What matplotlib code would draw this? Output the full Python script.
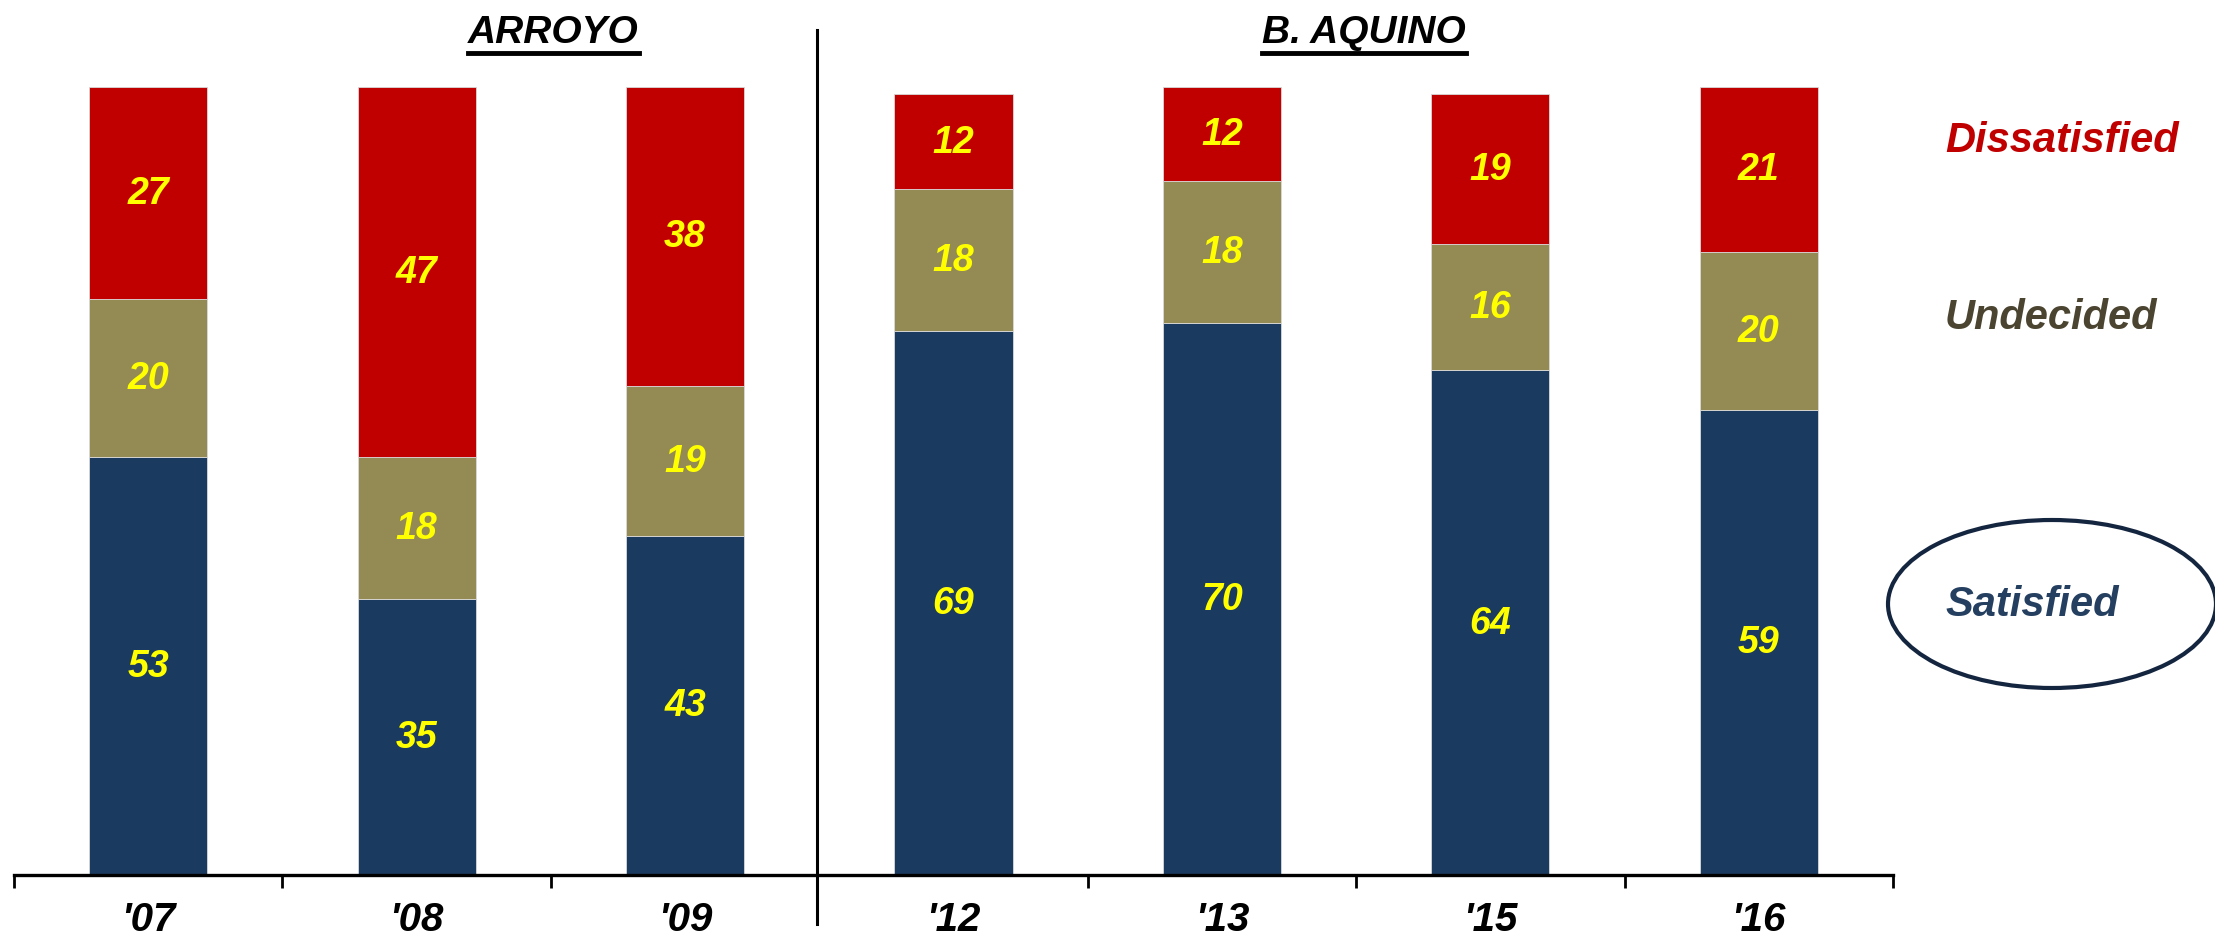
import matplotlib
matplotlib.use("Agg")
import matplotlib.pyplot as plt
from matplotlib import font_manager
from matplotlib.patches import Ellipse
from matplotlib.lines import Line2D

years = ["'07", "'08", "'09", "'12", "'13", "'15", "'16"]
satisfied = [53, 35, 43, 69, 70, 64, 59]
undecided = [20, 18, 19, 18, 18, 16, 20]
dissatisfied = [27, 47, 38, 12, 12, 19, 21]
groups = ["ARROYO", "B. AQUINO"]
series_names = ["Dissatisfied", "Undecided", "Satisfied"]

c_sat = "#1b3a5f"
c_und = "#948a54"
c_dis = "#c00000"
c_lab = "#ffff00"

names = {f.name for f in font_manager.fontManager.ttflist}
narrow = ["Liberation Sans Narrow", "Liberation Sans"] if "Liberation Sans Narrow" in names else ["Liberation Sans"]
wide = ["Liberation Sans", "DejaVu Sans"]

W, H = 2215, 937
fig = plt.figure(figsize=(W / 100, H / 100), dpi=100)
ax = fig.add_axes([14 / W, (H - 876) / H, 1879 / W, 788.4 / H])

x = list(range(len(years)))
bw = 0.44
b1 = ax.bar(x, satisfied, bw, color=c_sat, edgecolor="#d9d9d9", linewidth=0.6)
bot2 = satisfied
b2 = ax.bar(x, undecided, bw, bottom=bot2, color=c_und, edgecolor="#d9d9d9", linewidth=0.6)
bot3 = [s + u for s, u in zip(satisfied, undecided)]
b3 = ax.bar(x, dissatisfied, bw, bottom=bot3, color=c_dis, edgecolor="#d9d9d9", linewidth=0.6)

for bars in (b1, b2, b3):
    ax.bar_label(bars, label_type="center", color=c_lab, fontsize=27,
                 fontweight="bold", fontstyle="italic", family=wide)

ax.set_xlim(-0.5, 6.5)
ax.set_ylim(0, 100)
for s in ("top", "left", "right"):
    ax.spines[s].set_visible(False)
ax.spines["bottom"].set_linewidth(2.4)
ax.set_yticks([])
ax.set_xticks([-0.5, 0.5, 1.5, 3.5, 4.5, 5.5, 6.5])
ax.set_xticklabels([])
ax.tick_params(axis="x", direction="out", length=9, width=2)

for xi, lab in zip(x, years):
    ax.text(xi, -5.6, lab, ha="center", va="center", fontsize=29,
            fontweight="bold", fontstyle="italic", family=narrow, clip_on=False)

# divider
ax.plot([2.49, 2.49], [-6.2, 107.2], color="black", lw=2.2, clip_on=False)

# group titles
t1 = ax.text(1.51, 106.9, groups[0], ha="center", va="center", fontsize=28,
             fontweight="bold", fontstyle="italic", family=narrow, clip_on=False)
t2 = ax.text(4.53, 106.9, groups[1], ha="center", va="center", fontsize=28,
             fontweight="bold", fontstyle="italic", family=narrow, clip_on=False)

# legend-like labels
fig.text(1945 / W, 1 - 141 / H, series_names[0], color=c_dis, fontsize=30,
         fontweight="bold", fontstyle="italic", family=wide, va="center", ha="left")
fig.text(1945 / W, 1 - 318 / H, series_names[1], color="#4a4430", fontsize=30,
         fontweight="bold", fontstyle="italic", family=wide, va="center", ha="left")
fig.text(1945 / W, 1 - 605 / H, series_names[2], color="#243f60", fontsize=30,
         fontweight="bold", fontstyle="italic", family=wide, va="center", ha="left")
ell = Ellipse((2052 / W, 1 - 605 / H), 328 / W, 168 / H, transform=fig.transFigure,
              fill=False, edgecolor="#14253f", lw=3)
fig.add_artist(ell)

fig.canvas.draw()
r = fig.canvas.get_renderer()
for t in (t1, t2):
    bb = t.get_window_extent(r)
    yline = bb.y0 - 3
    fig.add_artist(Line2D([bb.x0 / W, bb.x1 / W], [yline / H, yline / H],
                          transform=fig.transFigure, color="black", lw=3.5))

fig.savefig("out.png", dpi=100)
